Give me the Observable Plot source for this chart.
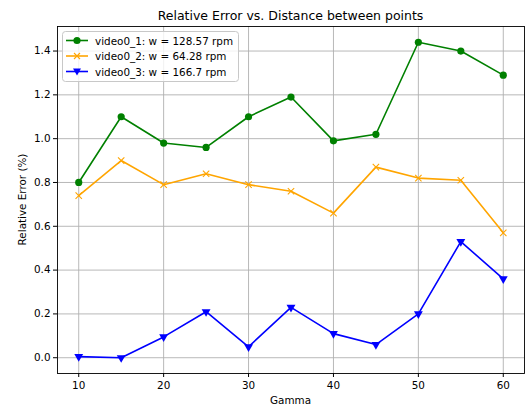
<!DOCTYPE html>
<html>
<head>
<meta charset="utf-8">
<script src="https://cdn.jsdelivr.net/npm/d3@7"></script>
<script src="https://cdn.jsdelivr.net/npm/@observablehq/plot@0.6"></script>
<style>
  html, body { margin: 0; padding: 0; background: #fff; }
  #chart { width: 526px; height: 408px; }
  svg { font-family: "DejaVu Sans", sans-serif; }
</style>
</head>
<body>
<div id="chart"></div>
<script>
const gamma = [10, 15, 20, 25, 30, 35, 40, 45, 50, 55, 60];
const video0_1 = [0.80, 1.10, 0.98, 0.96, 1.10, 1.19, 0.99, 1.02, 1.44, 1.40, 1.29];
const video0_2 = [0.74, 0.90, 0.79, 0.84, 0.79, 0.76, 0.66, 0.87, 0.82, 0.81, 0.57];
const video0_3 = [0.005, 0.0, 0.095, 0.21, 0.05, 0.23, 0.11, 0.06, 0.20, 0.53, 0.36];
const seriesNames = ["video0_1: w = 128.57 rpm", "video0_2: w = 64.28 rpm", "video0_3: w = 166.7 rpm"];
const seriesColors = ["#008000", "#FFA500", "#0000FF"];
const xTicks = [10, 20, 30, 40, 50, 60];
const yTicks = [0.0, 0.2, 0.4, 0.6, 0.8, 1.0, 1.2, 1.4];
const titleText = "Relative Error vs. Distance between points";
const xLabel = "Gamma";
const yLabel = "Relative Error (%)";

const allSeries = [video0_1, video0_2, video0_3];
const rows = [];
allSeries.forEach((vals, s) => vals.forEach((v, i) => rows.push({ series: s, x: gamma[i], y: v })));
const ser = s => rows.filter(d => d.series === s);

const W = 526, H = 408, mL = 57, mR = 2, mT = 26, mB = 35;
const fontSize = 10.4;

const plot = Plot.plot({
  width: W, height: H,
  marginLeft: mL, marginRight: mR, marginTop: mT, marginBottom: mB,
  style: { fontFamily: "DejaVu Sans, sans-serif", fontSize: fontSize + "px", color: "#000", background: "#fff" },
  x: { domain: [7.5, 62.5], label: null },
  y: { domain: [-0.072, 1.512], label: null },
  marks: [
    Plot.gridX(xTicks, { stroke: "#b0b0b0", strokeOpacity: 1, strokeWidth: 0.9 }),
    Plot.gridY(yTicks, { stroke: "#b0b0b0", strokeOpacity: 1, strokeWidth: 0.9 }),
    Plot.axisX(xTicks, { tickSize: 4, tickPadding: 4, tickFormat: d => String(d), label: null, fontSize: fontSize }),
    Plot.axisY(yTicks, { tickSize: 4, tickPadding: 3, tickFormat: d => d.toFixed(1), label: null, fontSize: fontSize }),
    Plot.lineY(ser(0), { x: "x", y: "y", stroke: seriesColors[0], strokeWidth: 1.6 }),
    Plot.dot(ser(0), { x: "x", y: "y", fill: seriesColors[0], symbol: "circle", r: 3.6 }),
    Plot.lineY(ser(1), { x: "x", y: "y", stroke: seriesColors[1], strokeWidth: 1.6 }),
    Plot.dot(ser(1), { x: "x", y: "y", stroke: seriesColors[1], fill: "none", symbol: "times", r: 3.0, strokeWidth: 1.1 }),
    Plot.lineY(ser(2), { x: "x", y: "y", stroke: seriesColors[2], strokeWidth: 1.6 }),
    Plot.dot(ser(2), { x: "x", y: "y", fill: seriesColors[2], symbol: "triangle", r: 3.3, rotate: 180 }),
    Plot.frame({ stroke: "#000", strokeWidth: 0.9 })
  ]
});
document.getElementById("chart").appendChild(plot);

const svg = d3.select(plot);
// Title
svg.append("text").attr("x", (mL + W - mR) / 2).attr("y", 15).attr("text-anchor", "middle")
  .attr("dominant-baseline", "central").attr("font-size", "12.5px").attr("fill", "#000").text(titleText);
// X label
svg.append("text").attr("x", (mL + W - mR) / 2).attr("y", 400).attr("text-anchor", "middle")
  .attr("dominant-baseline", "central").attr("font-size", fontSize + "px").attr("fill", "#000").text(xLabel);
// Y label
svg.append("text").attr("transform", `translate(22,${(mT + H - mB) / 2}) rotate(-90)`).attr("text-anchor", "middle")
  .attr("dominant-baseline", "central").attr("font-size", fontSize + "px").attr("fill", "#000").text(yLabel);

// Legend
const lg = svg.append("g").attr("transform", "translate(62,31)");
lg.append("rect").attr("x", 0.5).attr("y", 0.5).attr("width", 176).attr("height", 50).attr("rx", 3)
  .attr("fill", "#fff").attr("fill-opacity", 0.8).attr("stroke", "#c8c8c8").attr("stroke-width", 1);
seriesNames.forEach((name, i) => {
  const cy = 9.5 + i * 15.5;
  lg.append("line").attr("x1", 4).attr("x2", 26).attr("y1", cy).attr("y2", cy)
    .attr("stroke", seriesColors[i]).attr("stroke-width", 1.6);
  if (i === 0) {
    lg.append("circle").attr("cx", 15).attr("cy", cy).attr("r", 3.6).attr("fill", seriesColors[i]);
  } else if (i === 1) {
    lg.append("path").attr("d", `M${12},${cy - 3}L${18},${cy + 3}M${12},${cy + 3}L${18},${cy - 3}`)
      .attr("stroke", seriesColors[i]).attr("stroke-width", 1.1);
  } else {
    lg.append("path").attr("d", `M${11},${cy - 3}L${19},${cy - 3}L${15},${cy + 4}Z`).attr("fill", seriesColors[i]);
  }
  lg.append("text").attr("x", 33).attr("y", cy).attr("text-anchor", "start").attr("dominant-baseline", "central")
    .attr("font-size", fontSize + "px").attr("fill", "#000").text(name);
});
</script>
</body>
</html>
